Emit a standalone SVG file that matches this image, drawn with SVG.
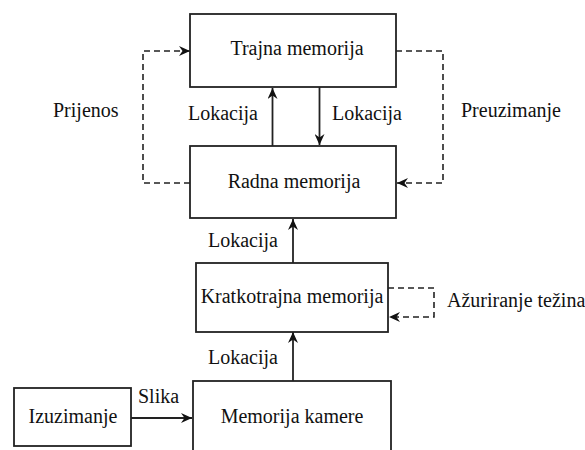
<svg xmlns="http://www.w3.org/2000/svg" width="585" height="450" viewBox="0 0 585 450">
<defs>
<marker id="ah" markerWidth="12" markerHeight="10" refX="11" refY="5" orient="auto" markerUnits="userSpaceOnUse">
<path d="M0,0 L11,5 L0,10 L3.5,5 z" fill="#111"/>
</marker>
</defs>
<style>
.box{fill:#fff;stroke:#222;stroke-width:1.8}
.ln{fill:none;stroke:#222;stroke-width:1.8}
.dl{fill:none;stroke:#222;stroke-width:1.6;stroke-dasharray:6,4}
.t{font-family:'Liberation Serif','DejaVu Serif',serif;font-size:20px;fill:#111}
.c{text-anchor:middle}
</style>
<rect width="585" height="450" fill="#fff"/>
<g id="connectors">
<line class="ln" x1="272.5" y1="146" x2="272.5" y2="88" marker-end="url(#ah)"/>
<line class="ln" x1="319.5" y1="87" x2="319.5" y2="145" marker-end="url(#ah)"/>
<line class="ln" x1="293" y1="263" x2="293" y2="219" marker-end="url(#ah)"/>
<line class="ln" x1="293" y1="381" x2="293" y2="332" marker-end="url(#ah)"/>
<line class="ln" x1="131" y1="418" x2="192" y2="418" marker-end="url(#ah)"/>
<polyline class="dl" points="190,183 143,183 143,51 190,51" marker-end="url(#ah)"/>
<polyline class="dl" points="396,51 443,51 443,183 397,183" marker-end="url(#ah)"/>
<polyline class="dl" points="388,288 434,288 434,317 389,317" marker-end="url(#ah)"/>
<text class="t" x="53" y="117">Prijenos</text>
<text class="t" x="461" y="117">Preuzimanje</text>
<text class="t" x="188" y="120">Lokacija</text>
<text class="t" x="332" y="120">Lokacija</text>
<text class="t" x="208" y="247">Lokacija</text>
<text class="t" x="447" y="307">Ažuriranje težina</text>
<text class="t" x="208" y="364">Lokacija</text>
<text class="t" x="138" y="403">Slika</text>
</g>
<g id="trajna">
<rect class="box" x="190" y="14" width="206" height="73"/>
<text class="t c" x="297" y="55">Trajna memorija</text>
</g>
<g id="radna">
<rect class="box" x="190" y="146" width="206" height="72"/>
<text class="t c" x="294" y="188">Radna memorija</text>
</g>
<g id="kratkotrajna">
<rect class="box" x="196" y="263" width="192" height="69"/>
<text class="t c" x="292" y="303">Kratkotrajna memorija</text>
</g>
<g id="izuzimanje">
<rect class="box" x="14" y="388" width="117" height="58"/>
<text class="t c" x="73" y="423">Izuzimanje</text>
</g>
<g id="kamera">
<rect class="box" x="193" y="381" width="198" height="75"/>
<text class="t c" x="292" y="423">Memorija kamere</text>
</g>
</svg>
